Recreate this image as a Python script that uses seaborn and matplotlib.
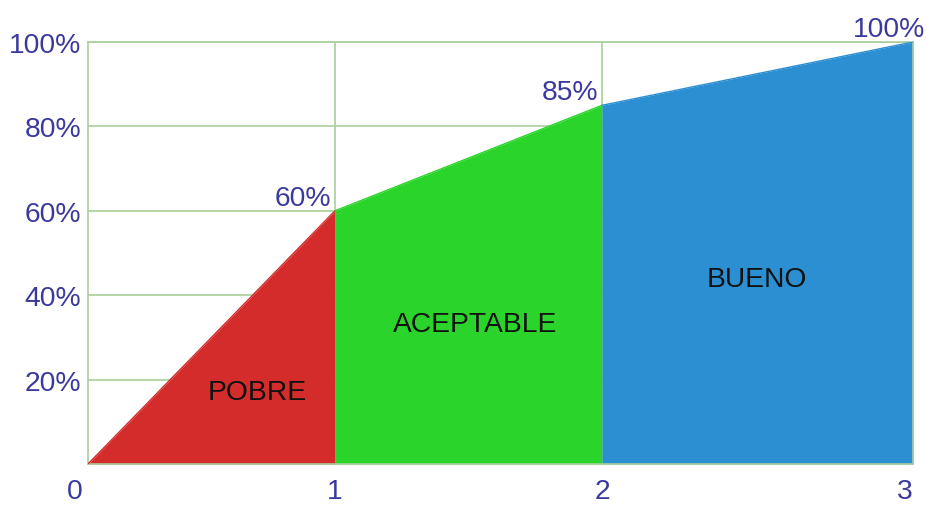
import matplotlib
matplotlib.use("Agg")
import matplotlib.pyplot as plt
import matplotlib.transforms as mtransforms
import seaborn as sns
import pandas as pd

# Data
x_vals = [0, 0.898, 1.869, 3]
y_vals = [0, 60, 85, 100]
categories = ["POBRE", "ACEPTABLE", "BUENO"]
cat_colors = ["#d42b2b", "#2bd42b", "#2b8fd2"]
cat_label_pos = [(0.617, 17.0), (1.407, 33.2), (2.433, 43.8)]
point_labels = ["60%", "85%", "100%"]
y_ticks = [20, 40, 60, 80, 100]
y_tick_labels = ["20%", "40%", "60%", "80%", "100%"]
x_ticks = x_vals
x_tick_labels = ["0", "1", "2", "3"]

sns.set_theme(style="white")
plt.rcParams["font.family"] = ["Liberation Sans", "DejaVu Sans"]

label_color = "#3a3a9e"
grid_color = "#a9cf9b"
FS = 20.3

fig = plt.figure(figsize=(9.28, 5.06), dpi=100)
ax = fig.add_axes([88 / 928, 1 - 465 / 506, (913 - 88) / 928, (465 - 43) / 506])

df = pd.DataFrame({"x": x_vals, "y": y_vals})
for i, (cat, col) in enumerate(zip(categories, cat_colors)):
    seg = df.iloc[i:i + 2]
    ax.fill_between(seg["x"], 0, seg["y"], color=col, lw=0, zorder=2)
    sns.lineplot(data=seg, x="x", y="y", color=col, lw=1, ax=ax, zorder=3)
    ax.text(cat_label_pos[i][0], cat_label_pos[i][1], cat, ha="center", va="center",
            fontsize=FS, color="#111111", zorder=4)

ax.set_xlim(0, 3)
ax.set_ylim(0, 100)
ax.set_xlabel("")
ax.set_ylabel("")

ax.set_yticks(y_ticks)
ax.set_yticklabels(y_tick_labels, fontsize=FS, color=label_color)
ax.set_xticks(x_ticks)
ax.set_xticklabels(x_tick_labels, fontsize=FS, color=label_color)
ax.tick_params(axis="both", length=0)
ax.tick_params(axis="y", pad=5)
ax.tick_params(axis="x", pad=10)
xl = ax.get_xticklabels()
xl[0].set_ha("right")
xl[3].set_ha("right")
xl[0].set_transform(xl[0].get_transform() + mtransforms.ScaledTranslation(-5 / 100, 0, fig.dpi_scale_trans))

ax.grid(False)
for yv in y_ticks:
    ax.axhline(yv, color=grid_color, lw=1.2, zorder=1)
for xv in x_vals[1:3]:
    ax.axvline(xv, color=grid_color, lw=1.2, zorder=1)
for s in ax.spines.values():
    s.set_color(grid_color)
    s.set_linewidth(1.2)

offsets = [(-3, 0), (-3, 0), (9, 0)]
for i, lab in enumerate(point_labels):
    ax.annotate(lab, (x_vals[i + 1], y_vals[i + 1]), xytext=offsets[i],
                textcoords="offset points", ha="right", va="bottom",
                fontsize=FS, color=label_color, annotation_clip=False, zorder=5)

fig.savefig("out.png", dpi=100)
